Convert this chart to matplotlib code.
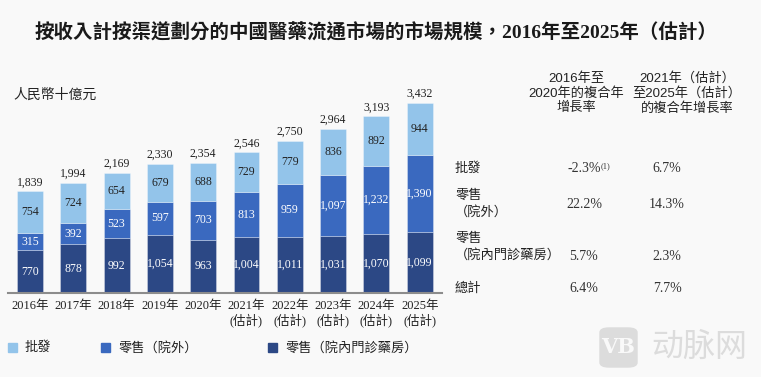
import matplotlib.pyplot as plt
from matplotlib.patches import Rectangle, FancyBboxPatch
import numpy as np

years = ['2016年', '2017年', '2018年', '2019年', '2020年',
         '2021年\n(估計)', '2022年\n(估計)', '2023年\n(估計)',
         '2024年\n(估計)', '2025年\n(估計)']
hospital = [770, 878, 992, 1054, 963, 1004, 1011, 1031, 1070, 1099]
retail_out = [315, 392, 523, 597, 703, 813, 959, 1097, 1232, 1390]
wholesale = [754, 724, 654, 679, 688, 729, 779, 836, 892, 944]
totals = [1839, 1994, 2169, 2330, 2354, 2546, 2750, 2964, 3193, 3432]

series_names = ['批發', '零售（院外）', '零售（院內門診藥房）']
row_labels = ['批發', '零售\n（院外）', '零售\n（院內門診藥房）', '總計']
cagr_16_20 = ['-2.3%', '22.2%', '5.7%', '6.4%']
cagr_21_25 = ['6.7%', '14.3%', '2.3%', '7.7%']
col_headers = ['2016年至\n2020年的複合年\n增長率', '2021年（估計）\n至2025年（估計）\n的複合年增長率']

c_light = '#93c4ea'
c_mid = '#3a69bf'
c_dark = '#2c4885'
bg = '#f9f9f9'

serif = ['Liberation Serif', 'Noto Sans CJK TC']
sans = ['Liberation Sans', 'Noto Sans CJK TC']

W, H = 761, 377
fig = plt.figure(figsize=(W / 100, H / 100), dpi=100, facecolor=bg)


def px(x, y):
    return x / W, 1 - y / H


# axes: baseline at y=293px, x from 8 to 442px
ax = fig.add_axes([8 / W, 1 - 293 / H, 434 / W, 213 / H])
ax.set_facecolor(bg)
x = np.arange(len(years))
scale = 190 / 3432  # px per unit
ax.set_ylim(0, 213 / scale)
ax.set_xlim(-0.508, 9.515)

bw = 0.6
edge = dict(edgecolor=(1, 1, 1, 0.35), linewidth=0.6)
ax.bar(x, hospital, bw, color=c_dark, **edge)
ax.bar(x, retail_out, bw, bottom=hospital, color=c_mid, **edge)
bottom2 = np.array(hospital) + np.array(retail_out)
ax.bar(x, wholesale, bw, bottom=bottom2, color=c_light, **edge)

for i in range(len(x)):
    ax.text(x[i], hospital[i] / 2, f'{hospital[i]:,}', ha='center', va='center',
            color='white', fontsize=8.5, family=serif)
    ax.text(x[i], hospital[i] + retail_out[i] / 2, f'{retail_out[i]:,}', ha='center',
            va='center', color='white', fontsize=8.5, family=serif)
    ax.text(x[i], bottom2[i] + wholesale[i] / 2, f'{wholesale[i]:,}', ha='center',
            va='center', color='#222222', fontsize=8.5, family=serif)
    ax.annotate(f'{totals[i]:,}', (x[i], totals[i]), xytext=(0, 2),
                textcoords='offset points', ha='center', va='bottom',
                color='#222222', fontsize=8.5, family=serif)

ax.set_xticks(x)
ax.set_xticklabels(years, fontsize=9, family=serif, color='#222222', linespacing=1.15)
ax.tick_params(axis='x', length=0, pad=5)
ax.set_yticks([])
for s in ['top', 'left', 'right']:
    ax.spines[s].set_visible(False)
ax.spines['bottom'].set_color('#8c8c8c')
ax.spines['bottom'].set_linewidth(1.5)

# title
fig.text(*px(376, 33), '按收入計按渠道劃分的中國醫藥流通市場的市場規模，2016年至2025年（估計）',
         ha='center', va='center', fontsize=14, fontweight='bold', family=serif, color='#1a1a1a')
fig.text(*px(13, 95), '人民幣十億元', ha='left', va='center', fontsize=10,
         family=serif, color='#222222')

# CAGR table
fig.text(*px(576, 93), col_headers[0], ha='center', va='center', fontsize=9.5,
         family=sans, color='#222222', linespacing=1.25, multialignment='center')
fig.text(*px(687, 93), col_headers[1], ha='center', va='center', fontsize=9.5,
         family=sans, color='#222222', linespacing=1.25, multialignment='center')

row_y = [169, 204, 247, 289]
val_y = [169, 204, 256, 289]
for lab, ly, vy, v1, v2 in zip(row_labels, row_y, val_y, cagr_16_20, cagr_21_25):
    fig.text(*px(455, ly), lab, ha='left', va='center', fontsize=9.5, family=sans,
             color='#222222', linespacing=1.45)
    fig.text(*px(584, vy), v1, ha='center', va='center', fontsize=10,
             family=serif, color='#333333')
    fig.text(*px(667, vy), v2, ha='center', va='center', fontsize=10,
             family=serif, color='#333333')
fig.text(*px(601, 166), '(1)', ha='left', va='center', fontsize=6,
         family=serif, color='#333333')

# legend
leg = [(8, 25, c_light, series_names[0]), (101, 118, c_mid, series_names[1]),
       (268, 285, c_dark, series_names[2])]
for sx, tx, c, name in leg:
    fx, fy = px(sx, 352)
    fig.patches.append(Rectangle((fx, fy), 9 / W, 9 / H, transform=fig.transFigure,
                                 color=c, figure=fig))
    fig.text(*px(tx, 348), name, ha='left', va='center', fontsize=9.5,
             family=sans, color='#222222')

# watermark
bx, by = px(600, 367)
fig.patches.append(FancyBboxPatch((bx, by), 37 / W, 39 / H, boxstyle='round,pad=0,rounding_size=0.012',
                                  transform=fig.transFigure, color='#dcdcdc', figure=fig))
fig.text(*px(618, 347), 'VB', ha='center', va='center', fontsize=15, fontweight='bold',
         family=['DejaVu Serif'], color=bg)
fig.text(*px(699, 347), '动脉网', ha='center', va='center', fontsize=23,
         family=['Noto Sans CJK SC'], color='#dcdcdc')

fig.savefig('out.png', dpi=100, facecolor=bg)
